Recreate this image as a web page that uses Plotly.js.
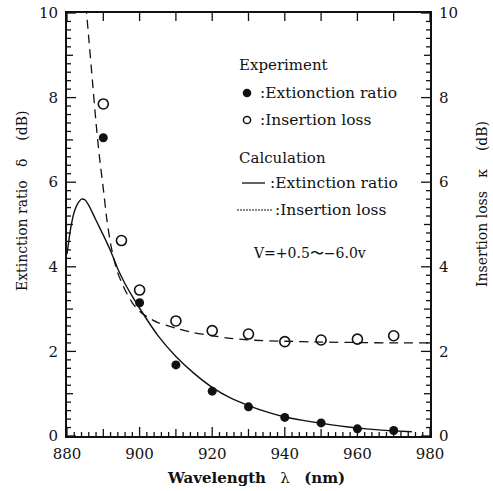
<!DOCTYPE html>
<html>
<head>
<meta charset="utf-8">
<script src="https://cdn.plot.ly/plotly-3.0.1.min.js"></script>
<style>
  html, body { margin: 0; padding: 0; background: #fff; }
  #chart { width: 493px; height: 491px; }
</style>
</head>
<body>
<div id="chart"></div>
<script>
// Measured points (experiment)
const expWavelength = [890, 900, 910, 920, 930, 940, 950, 960, 970];
const expExtinction = [7.05, 3.15, 1.68, 1.06, 0.69, 0.44, 0.31, 0.17, 0.13];
const insWavelength = [890, 895, 900, 910, 920, 930, 940, 950, 960, 970];
const expInsertion  = [7.85, 4.62, 3.45, 2.72, 2.49, 2.41, 2.23, 2.27, 2.29, 2.37];

// Calculated curves
const calcExtWl  = [880, 881, 882, 883, 884, 885, 886, 887, 888, 890, 892, 894, 896, 898, 900,
                    905, 910, 915, 920, 925, 930, 935, 940, 945, 950, 955, 960, 965, 970, 975];
const calcExtVal = [4.3, 4.9, 5.3, 5.5, 5.6, 5.58, 5.45, 5.28, 5.1, 4.75, 4.38, 3.95, 3.6, 3.3, 3.02,
                    2.38, 1.88, 1.48, 1.15, 0.9, 0.72, 0.57, 0.45, 0.37, 0.3, 0.24, 0.19, 0.15, 0.12, 0.1];
const calcInsWl  = [885.2, 886, 887, 888, 889, 890, 891, 892, 893, 894, 896, 898, 900, 902, 905,
                    910, 915, 920, 925, 930, 940, 950, 960, 970, 980];
const calcInsVal = [10.2, 9.4, 8.4, 7.4, 6.55, 5.85, 5.1, 4.55, 4.15, 3.85, 3.45, 3.15, 2.95, 2.82, 2.68,
                    2.55, 2.44, 2.37, 2.31, 2.27, 2.24, 2.22, 2.21, 2.2, 2.2];

// Axis ranges, labels and tick spacing
const xRange = [880, 980];
const yRange = [0, 10];
const xTickVals = [880, 900, 920, 940, 960, 980];
const yTickVals = [0, 2, 4, 6, 8, 10];
const xMinorStep = 2;      // nm
const yMinorStep = 0.2;    // dB

// Legend / caption text
const legendText = {
  expHead: 'Experiment',
  expExt: ':Extionction ratio',
  expIns: ':Insertion loss',
  calcHead: 'Calculation',
  calcExt: ':Extinction ratio',
  calcIns: ':Insertion loss',
  voltage: 'V=+0.5\u301C\u22126.0v'
};

// Plot box in pixels
const W = 493, H = 491;
const L = 67, R = 430, T = 13, B = 436;
const PW = R - L, PH = B - T;
const px2paperX = px => (px - L) / PW;
const px2paperY = py => (B - py) / PH;

const SERIF = 'DejaVu Serif, Liberation Serif, serif';
const ink = '#111';

const traces = [
  { x: calcExtWl, y: calcExtVal, mode: 'lines', xaxis: 'x', yaxis: 'y',
    line: { color: ink, width: 1.4, shape: 'spline', smoothing: 0.6 }, hoverinfo: 'skip' },
  { x: calcInsWl, y: calcInsVal, mode: 'lines', xaxis: 'x', yaxis: 'y2',
    line: { color: ink, width: 1.3, dash: '9px,6px', shape: 'spline', smoothing: 0.6 }, hoverinfo: 'skip' },
  { x: expWavelength, y: expExtinction, mode: 'markers', xaxis: 'x', yaxis: 'y',
    marker: { symbol: 'circle', size: 9, color: ink, line: { width: 0 } } },
  { x: insWavelength, y: expInsertion, mode: 'markers', xaxis: 'x2', yaxis: 'y2',
    marker: { symbol: 'circle-open', size: 10, color: ink, line: { width: 1.6, color: ink } } }
];

const tickFont = { family: SERIF, size: 15, color: ink };
const frame = { showline: true, linewidth: 2, linecolor: ink, showgrid: false, zeroline: false, fixedrange: true };

const layout = {
  width: W, height: H,
  margin: { l: L, r: W - R, t: T, b: H - B },
  paper_bgcolor: '#fff', plot_bgcolor: 'rgba(0,0,0,0)',
  showlegend: false,
  xaxis: Object.assign({}, frame, {
    range: xRange, tickmode: 'array', tickvals: xTickVals, ticks: '', ticklabelstandoff: 3,
    tickfont: tickFont
  }),
  xaxis2: Object.assign({}, frame, {
    range: xRange, overlaying: 'x', side: 'top', anchor: 'y2', ticks: '', showticklabels: false
  }),
  yaxis: Object.assign({}, frame, {
    range: yRange, tickmode: 'array', tickvals: yTickVals, ticks: '', ticklabelstandoff: 4,
    tickfont: tickFont
  }),
  yaxis2: Object.assign({}, frame, {
    range: yRange, overlaying: 'y', side: 'right', anchor: 'x2',
    tickmode: 'array', tickvals: yTickVals, ticks: '', ticklabelstandoff: 4,
    tickfont: tickFont
  }),
  annotations: [],
  shapes: []
};

// Inward tick marks on all four edges, placed on the axes' own data scale
function tickLine(len) { return { color: ink, width: 1.3 }; }
const nx = Math.round((xRange[1] - xRange[0]) / xMinorStep);
for (let i = 0; i <= nx; i++) {
  const v = xRange[0] + i * xMinorStep;
  const step = Math.round(v - xRange[0]);
  const lenBottom = step % 20 === 0 ? 9 : (step % 10 === 0 ? 7 : 4);
  layout.shapes.push({ type: 'line', xref: 'x', yref: 'paper', x0: v, x1: v,
    y0: 0, y1: lenBottom / PH, line: tickLine() });
  if (step % 10 === 0) {
    layout.shapes.push({ type: 'line', xref: 'x', yref: 'paper', x0: v, x1: v,
      y0: 1, y1: 1 - 8 / PH, line: tickLine() });
  }
}
const ny = Math.round((yRange[1] - yRange[0]) / yMinorStep);
for (let i = 0; i <= ny; i++) {
  const v = yRange[0] + i * yMinorStep;
  const len = i % 10 === 0 ? 9 : (i % 5 === 0 ? 6 : 4);
  layout.shapes.push({ type: 'line', xref: 'paper', yref: 'y', x0: 0, x1: len / PW,
    y0: v, y1: v, line: tickLine() });
  layout.shapes.push({ type: 'line', xref: 'paper', yref: 'y', x0: 1, x1: 1 - len / PW,
    y0: v, y1: v, line: tickLine() });
}

function label(text, px, py, opts) {
  layout.annotations.push(Object.assign({
    text: text, xref: 'paper', yref: 'paper',
    x: px2paperX(px), y: px2paperY(py),
    xanchor: 'left', yanchor: 'middle', showarrow: false,
    font: { family: SERIF, size: 15, color: ink }
  }, opts || {}));
}

// Axis titles
label('Extinction ratio&nbsp;&nbsp;&nbsp;\u03B4&nbsp;&nbsp;&nbsp;&nbsp;(dB)', 22, 201,
      { xanchor: 'center', textangle: -90, font: { family: SERIF, size: 14, color: ink } });
label('Insertion loss&nbsp;&nbsp;&nbsp;\u03BA&nbsp;&nbsp;&nbsp;&nbsp;(dB)', 482, 204,
      { xanchor: 'center', textangle: -90, font: { family: SERIF, size: 14, color: ink } });
label('<b>Wavelength</b>&nbsp;&nbsp;&nbsp;\u03BB&nbsp;&nbsp;&nbsp;<b>(nm)</b>', 256, 478,
      { xanchor: 'center', font: { family: SERIF, size: 15, color: ink } });

// Legend block
label(legendText.expHead, 237, 65);
label(legendText.expExt, 258, 93, { font: { family: SERIF, size: 15.5, color: ink } });
label(legendText.expIns, 258, 120, { font: { family: SERIF, size: 15.5, color: ink } });
label(legendText.calcHead, 237, 158);
label(legendText.calcExt, 268, 183, { font: { family: SERIF, size: 15.5, color: ink } });
label(legendText.calcIns, 273, 210, { font: { family: SERIF, size: 15.5, color: ink } });
label(legendText.voltage, 251, 253, { font: { family: SERIF, size: 14, color: ink } });

// Legend symbols
const r = 4.3;
layout.shapes.push({ type: 'circle', xref: 'paper', yref: 'paper',
  x0: px2paperX(247 - r), x1: px2paperX(247 + r), y0: px2paperY(93 + r), y1: px2paperY(93 - r),
  fillcolor: ink, line: { width: 0 } });
layout.shapes.push({ type: 'circle', xref: 'paper', yref: 'paper',
  x0: px2paperX(247 - 3.6), x1: px2paperX(247 + 3.6), y0: px2paperY(120 + 3.6), y1: px2paperY(120 - 3.6),
  fillcolor: 'rgba(0,0,0,0)', line: { width: 1.5, color: ink } });
layout.shapes.push({ type: 'line', xref: 'paper', yref: 'paper',
  x0: px2paperX(242), x1: px2paperX(265), y0: px2paperY(183), y1: px2paperY(183),
  line: { width: 1.3, color: ink } });
layout.shapes.push({ type: 'line', xref: 'paper', yref: 'paper',
  x0: px2paperX(237), x1: px2paperX(272), y0: px2paperY(210), y1: px2paperY(210),
  line: { width: 1, color: ink, dash: '2px,1px' } });

Plotly.newPlot('chart', traces, layout, { displayModeBar: false, staticPlot: true });
</script>
</body>
</html>
